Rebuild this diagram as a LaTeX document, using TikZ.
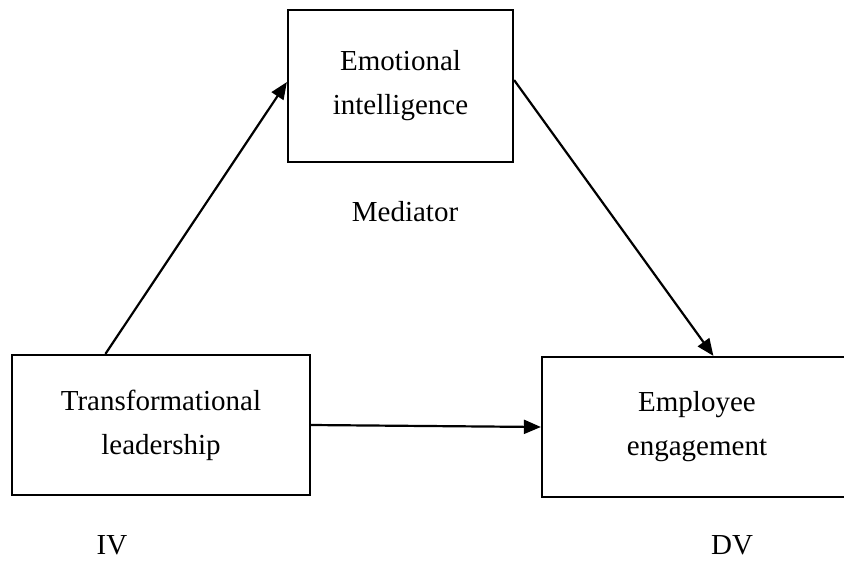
\documentclass[tikz,border=0pt]{standalone}
\usepackage{fontspec}
\setmainfont{Liberation Serif}
\usetikzlibrary{arrows.meta}
\pgfdeclarelayer{edgelayer}
\pgfdeclarelayer{nodelayer}
\pgfsetlayers{main,edgelayer,nodelayer}
\tikzstyle{none} = [font=\fontsize{29}{44}\selectfont, anchor=base, inner sep=0pt]
\tikzstyle{Plain Box}=[draw=black, line width=2.2pt, shape=rectangle, align=center, font=\fontsize{29}{44}\selectfont, inner sep=0pt]
\tikzstyle{Black Arrow}=[-{Triangle[length=17pt, width=14pt]}, draw=black, line width=2.2pt]
\begin{document}
\begin{tikzpicture}[x=1pt, y=-1pt]
	\fill [white] (0, 0) rectangle (844, 560);
	\clip (0, 0) rectangle (844, 560);
	\begin{pgfonlayer}{nodelayer}
		\node [style=Plain Box, minimum width=225pt, minimum height=152pt] (0) at (400.5, 86) {Emotional\\intelligence};
		\node [style=Plain Box, minimum width=298pt, minimum height=140pt] (1) at (161, 425) {Transformational\\leadership};
		\node [style=Plain Box, minimum width=310pt, minimum height=140pt] (2) at (697, 427) {Employee\\engagement};
		\node [style=none] (3) at (405, 221) {Mediator};
		\node [style=none] (4) at (112, 554) {IV};
		\node [style=none] (5) at (732, 554) {DV};
	\end{pgfonlayer}
	\begin{pgfonlayer}{edgelayer}
		\draw [style=Black Arrow] (1.128.7) to (0.178.5);
		\draw [style=Black Arrow] (0.3) to (2.77.9);
		\draw [style=Black Arrow] (1.east) to (2.180.4);
	\end{pgfonlayer}
\end{tikzpicture}
\end{document}
